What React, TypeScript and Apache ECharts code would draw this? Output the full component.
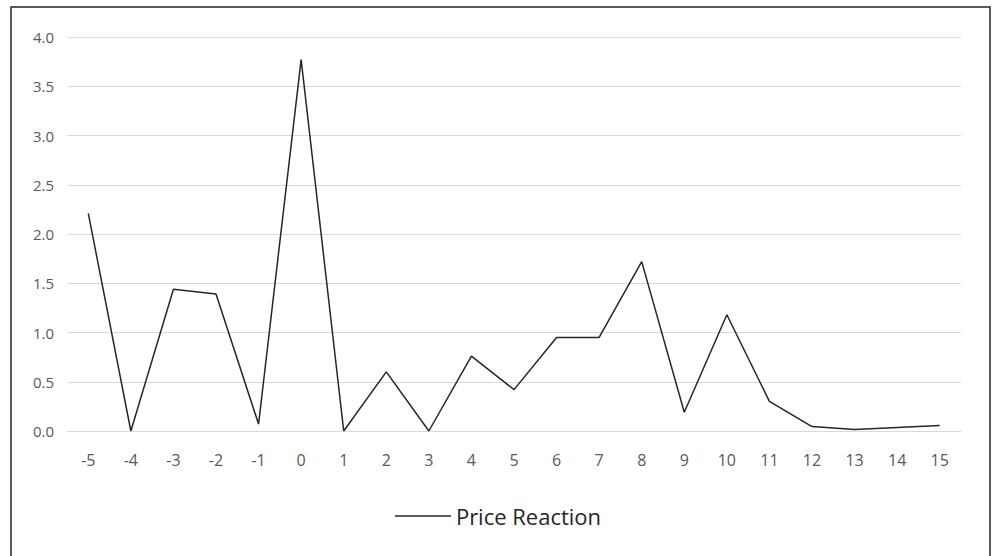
import React, { useEffect, useRef } from "react";
import * as echarts from "echarts";

// Event-day offsets and the price reaction measured on each day
const days = ["-5", "-4", "-3", "-2", "-1", "0", "1", "2", "3", "4", "5", "6", "7", "8", "9", "10", "11", "12", "13", "14", "15"];
const priceReaction = [2.21, 0.0, 1.44, 1.39, 0.07, 3.77, 0.0, 0.6, 0.0, 0.76, 0.42, 0.95, 0.95, 1.72, 0.19, 1.18, 0.3, 0.045, 0.015, 0.035, 0.055];
const seriesName = "Price Reaction";

export default function App() {
  const ref = useRef<HTMLDivElement>(null);

  useEffect(() => {
    if (!ref.current) return;
    const chart = echarts.init(ref.current, null, { renderer: "svg" });
    chart.setOption({
      animation: false,
      backgroundColor: "#ffffff",
      textStyle: { fontFamily: "'Open Sans', sans-serif" },
      graphic: [
        {
          type: "rect",
          shape: { x: 11, y: 7, width: 979, height: 570 },
          style: { fill: "none", stroke: "#262626", lineWidth: 1.5 },
          silent: true,
        },
      ],
      grid: { left: 67, right: 35, top: 37, bottom: 125, containLabel: false },
      legend: {
        data: [{ name: seriesName, icon: "path://M0,0H56V1.5H0Z" }],
        bottom: 24,
        left: "center",
        itemWidth: 56,
        itemHeight: 2,
        itemGap: 8,
        textStyle: { color: "#262626", fontSize: 22, fontFamily: "'Open Sans', sans-serif" },
      },
      xAxis: {
        type: "category",
        data: days,
        boundaryGap: true,
        axisLine: { show: true, lineStyle: { color: "#d9d9d9", width: 1 } },
        axisTick: { show: false },
        axisLabel: { color: "#595959", fontSize: 16, margin: 21 },
      },
      yAxis: {
        type: "value",
        min: 0,
        max: 4,
        interval: 0.5,
        axisLine: { show: false },
        axisTick: { show: false },
        axisLabel: {
          color: "#595959",
          fontSize: 15,
          margin: 13,
          formatter: (v: number) => v.toFixed(1),
        },
        splitLine: { lineStyle: { color: "#d9d9d9", width: 1 } },
      },
      series: [
        {
          name: seriesName,
          type: "line",
          data: priceReaction,
          symbol: "none",
          lineStyle: { color: "#262626", width: 1.5 },
          itemStyle: { color: "#262626" },
        },
      ],
    });
    return () => chart.dispose();
  }, []);

  return (
    <div
      ref={ref}
      style={{ position: "absolute", left: 0, top: 0, width: 996, height: 556, background: "#fff" }}
    />
  );
}
